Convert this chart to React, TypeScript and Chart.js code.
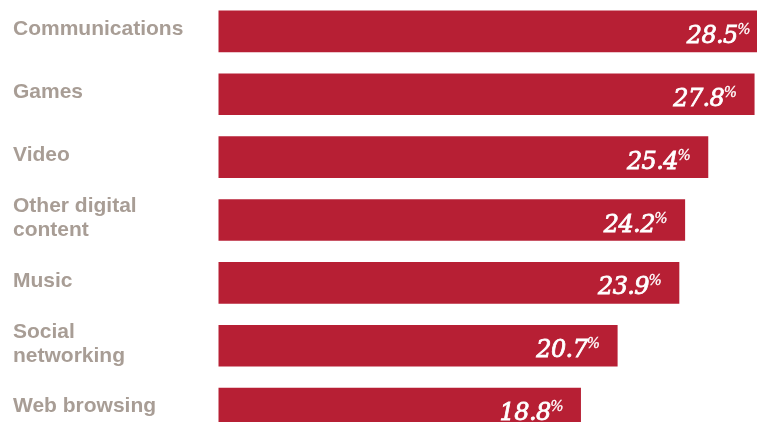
import React, { useEffect, useRef } from "react";
import { Chart, registerables } from "chart.js";

Chart.register(...registerables);

const categories: (string | string[])[] = [
  "Communications",
  "Games",
  "Video",
  ["Other digital", "content"],
  "Music",
  ["Social", "networking"],
  "Web browsing",
];
const values: number[] = [28.5, 27.8, 25.4, 24.2, 23.9, 20.7, 18.8];
const valueLabels: string[] = ["28.5", "27.8", "25.4", "24.2", "23.9", "20.7", "18.8"];

const BAR_COLOR = "#b71f34";
const LABEL_COLOR = "#a89d95";

const valueLabelPlugin = {
  id: "valueLabels",
  afterDatasetsDraw(chart: any) {
    const ctx = chart.ctx;
    const meta = chart.getDatasetMeta(0);
    ctx.save();
    ctx.fillStyle = "#ffffff";
    ctx.strokeStyle = "#ffffff";
    meta.data.forEach((bar: any, i: number) => {
      const right = bar.x - 17.5;
      const baseline = bar.y + 11.5;
      ctx.textBaseline = "alphabetic";
      ctx.textAlign = "right";
      (ctx as any).letterSpacing = "0px";
      ctx.font = "italic 14px 'DejaVu Serif'";
      const pw = ctx.measureText("%").width;
      ctx.lineWidth = 0.3;
      ctx.fillText("%", right, baseline - 9);
      ctx.strokeText("%", right, baseline - 9);
      ctx.font = "italic 24px 'DejaVu Serif'";
      (ctx as any).letterSpacing = "-0.6px";
      ctx.lineWidth = 0.8;
      const x = right - pw + 0.5;
      ctx.fillText(valueLabels[i], x, baseline);
      ctx.strokeText(valueLabels[i], x, baseline);
    });
    ctx.restore();
  },
};

export default function App() {
  const ref = useRef<HTMLCanvasElement | null>(null);
  useEffect(() => {
    if (!ref.current) return;
    const chart = new Chart(ref.current, {
      type: "bar",
      data: {
        labels: categories as any,
        datasets: [
          {
            data: values,
            backgroundColor: BAR_COLOR,
            borderWidth: 0,
            barPercentage: 0.663,
            categoryPercentage: 1,
          },
        ],
      },
      options: {
        indexAxis: "y",
        animation: false,
        responsive: false,
        devicePixelRatio: 1,
        layout: { padding: { left: 13, right: 0, top: 0, bottom: 0 } },
        plugins: {
          legend: { display: false },
          tooltip: { enabled: false },
          title: { display: false },
        },
        scales: {
          x: {
            display: false,
            min: 0,
            max: 30,
          },
          y: {
            grid: { display: false },
            border: { display: false },
            afterFit(scale: any) {
              scale.width = 205.3;
              scale.paddingTop = 0;
              scale.paddingBottom = 0;
            },
            ticks: {
              color: LABEL_COLOR,
              crossAlign: "far",
              padding: 0,
              labelOffset: -2,
              autoSkip: false,
              font: {
                family: "'Liberation Sans', Arial, sans-serif",
                size: 21,
                weight: "bold",
                lineHeight: "24px",
              },
            },
          },
        },
      },
      plugins: [valueLabelPlugin],
    } as any);
    return () => chart.destroy();
  }, []);
  return (
    <div
      style={{
        position: "fixed",
        left: 0,
        top: 0,
        width: 757,
        height: 422,
        overflow: "hidden",
        background: "#ffffff",
      }}
    >
      <canvas ref={ref} width={797} height={440} style={{ display: "block", width: 797, height: 440 }} />
    </div>
  );
}
